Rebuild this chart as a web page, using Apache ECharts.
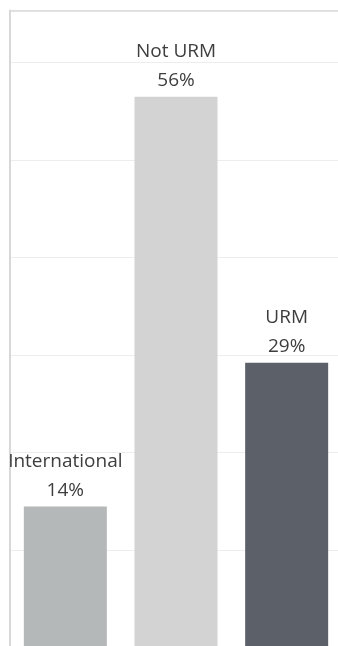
<!DOCTYPE html>
<html>
<head>
<meta charset="utf-8">
<script src="https://cdn.jsdelivr.net/npm/echarts@6/dist/echarts.min.js"></script>
<style>
  html, body { margin: 0; padding: 0; background: #fff; }
  #chart { width: 338px; height: 646px; }
</style>
</head>
<body>
<div id="chart"></div>
<script>
const categories = ['International', 'Not URM', 'URM'];
const values = [14.45, 56.45, 29.2];
const colors = ['#b4b8b8', '#d3d3d3', '#5c6068'];

const chart = echarts.init(document.getElementById('chart'));
chart.setOption({
  animation: false,
  grid: { left: 10, top: 10.5, right: -4, bottom: -1.6, outerBoundsMode: 'none', containLabel: false },
  xAxis: {
    type: 'category',
    data: categories,
    axisLine: { show: false },
    axisTick: { show: false },
    axisLabel: { show: false },
    splitLine: { show: false }
  },
  yAxis: {
    type: 'value',
    min: 0, max: 65.3, interval: 10,
    axisLine: { show: true, lineStyle: { color: '#d8d8d8', width: 2 } },
    axisTick: { show: false },
    axisLabel: { show: false },
    splitLine: { lineStyle: { color: '#ededed', width: 1 } }
  },
  series: [{
    type: 'bar',
    barWidth: 83,
    data: values.map((v, i) => ({ value: v, itemStyle: { color: colors[i] } })),
    label: {
      show: true,
      position: 'top',
      distance: 2,
      fontFamily: 'Open Sans',
      fontSize: 19,
      lineHeight: 29,
      color: '#3e3e3e',
      formatter: p => p.name + '\n' + Math.round(p.value) + '%'
    },
    markLine: {
      silent: true,
      symbol: 'none',
      label: { show: false },
      lineStyle: { color: '#d8d8d8', width: 1.5, type: 'solid' },
      data: [{ yAxis: 65.3 }]
    }
  }]
});
</script>
</body>
</html>
